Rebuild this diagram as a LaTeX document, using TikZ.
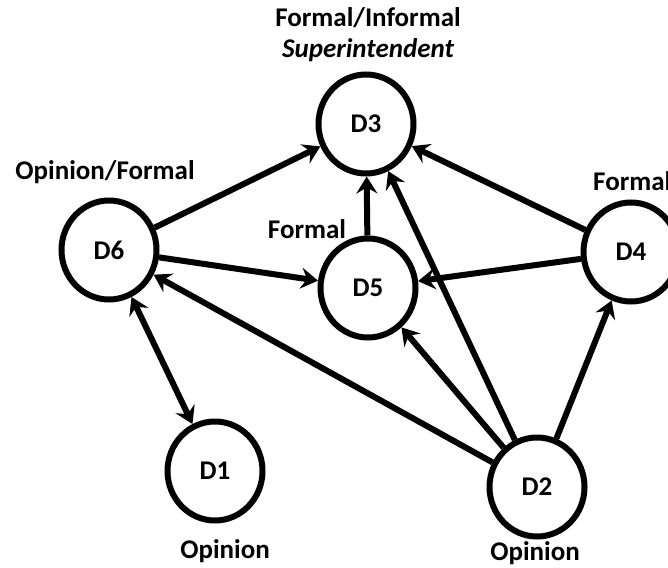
\documentclass[tikz,border=0pt]{standalone}
\usepackage{fontspec}
\setmainfont{Carlito}
\usetikzlibrary{shapes.geometric,arrows.meta}
\tikzset{
  dnode/.style={draw=black, line width=6pt, ellipse, minimum width=95pt, minimum height=99pt, inner sep=0pt, font=\bfseries\fontsize{27}{29}\selectfont},
  lbl/.style={font=\bfseries\fontsize{27}{29}\selectfont, inner sep=0pt},
  edge/.style={line width=6pt, -{Stealth[length=17pt,width=21pt,inset=6pt]}},
  bedge/.style={line width=6pt, {Stealth[length=17pt,width=21pt,inset=6pt]}-{Stealth[length=17pt,width=21pt,inset=6pt]}}
}
\begin{document}
\begin{tikzpicture}[x=1pt,y=-1pt]
\useasboundingbox (0,0) rectangle (668,567);
\node[dnode] (D3) at (366,124) {D3};
\node[dnode] (D6) at (109,250) {D6};
\node[dnode] (D5) at (368,288) {D5};
\node[dnode] (D4) at (631,252) {D4};
\node[dnode] (D1) at (215,471) {D1};
\node[dnode] (D2) at (537,487) {D2};
\node[lbl] (t3a) at (368,18) {Formal/Informal};
\node[lbl] (t3b) at (368,50) {\itshape Superintendent};
\node[lbl] (t6) at (105,172) {Opinion/Formal};
\node[lbl, anchor=west] (t4) at (593,181) {Formal};
\node[lbl] (t5) at (307,229) {Formal};
\node[lbl] (t1) at (225,551) {Opinion};
\node[lbl] (t2) at (535,553) {Opinion};
\draw[edge] (D6) -- (D3);
\draw[edge] (D6) -- (D5);
\draw[edge] (D5) -- (D3);
\draw[edge] (D4) -- (D3);
\draw[edge] (D4) -- (D5);
\draw[edge] (D2) -- (D3);
\draw[edge] (D2) -- (D5);
\draw[edge] (D2) -- (D4);
\draw[edge] (D2) -- (D6);
\draw[bedge] (D6) -- (D1);
\end{tikzpicture}
\end{document}
